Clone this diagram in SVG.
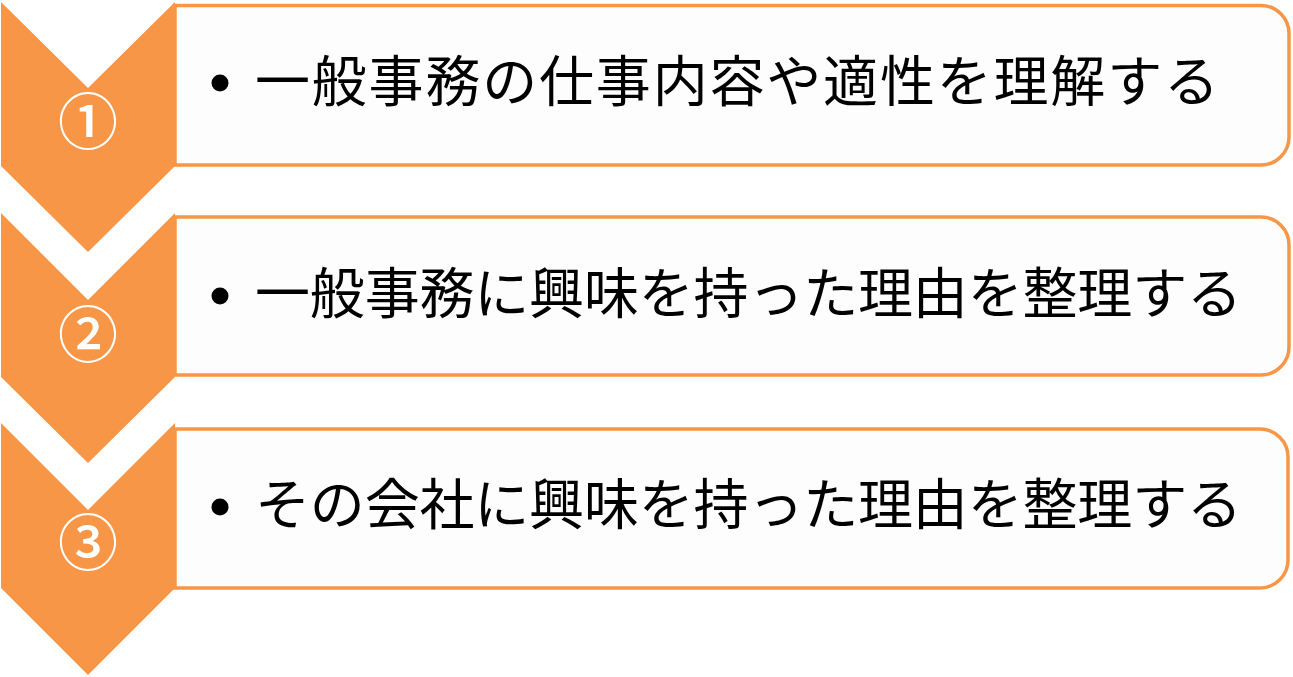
<svg xmlns="http://www.w3.org/2000/svg" width="1293" height="677" viewBox="0 0 1293 677">
<defs>
<style>
.chev{fill:#F79646;}
.box{fill:#FDFDFD;stroke:#F79646;stroke-width:3.5;}
.num{fill:#FFFFFF;font-family:"Noto Sans CJK JP","Noto Sans CJK SC",sans-serif;font-size:60px;font-weight:500;text-anchor:middle;}
.txt{fill:#000000;font-family:"Noto Sans CJK JP","Noto Sans CJK SC",sans-serif;font-size:55px;}
.dot{fill:#000000;}
</style>
</defs>
<rect width="1293" height="677" fill="#FFFFFF"/>
<g id="step1">
<path class="box" d="M175 5.5 H1261 A28 28 0 0 1 1289 33.5 V137 A28 28 0 0 1 1261 165 H175 Z"/>
<polygon class="chev" points="1,2 88,88 175,2 175,166 88,252 1,166"/>
<text class="num" x="88" y="144">①</text>
<circle class="dot" cx="220" cy="83" r="8.5"/>
<text class="txt" x="255" y="101" textLength="964" lengthAdjust="spacing">一般事務の仕事内容や適性を理解する</text>
</g>
<g id="step2">
<path class="box" d="M175 217 H1261 A28 28 0 0 1 1289 245 V347 A28 28 0 0 1 1261 375 H175 Z"/>
<polygon class="chev" points="1,213 88,300 175,213 175,377 88,463 1,377"/>
<text class="num" x="88" y="357">②</text>
<circle class="dot" cx="220" cy="296" r="8.5"/>
<text class="txt" x="255" y="313" textLength="987" lengthAdjust="spacing">一般事務に興味を持った理由を整理する</text>
</g>
<g id="step3">
<path class="box" d="M175 429 H1260 A28 28 0 0 1 1288 457 V560 A28 28 0 0 1 1260 588 H175 Z"/>
<polygon class="chev" points="1,423 88,510 175,423 175,588 88,675 1,588"/>
<text class="num" x="88" y="565">③</text>
<circle class="dot" cx="220" cy="507" r="8.5"/>
<text class="txt" x="255" y="524" textLength="987" lengthAdjust="spacing">その会社に興味を持った理由を整理する</text>
</g>
<g id="connectors"></g>
</svg>
